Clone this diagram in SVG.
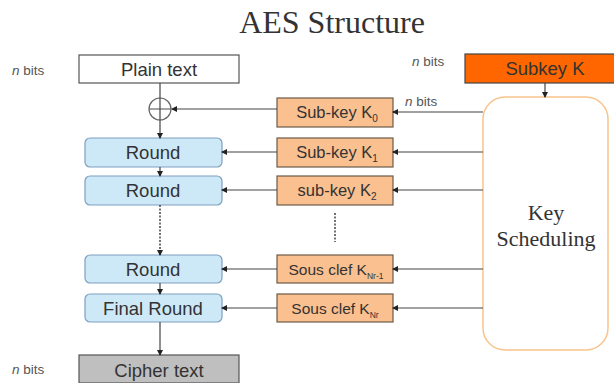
<svg xmlns="http://www.w3.org/2000/svg" width="614" height="383" viewBox="0 0 614 383">
<defs>
<marker id="ah" markerWidth="6" markerHeight="6" refX="5" refY="3" orient="auto" markerUnits="userSpaceOnUse">
<path d="M0,0 L6,3 L0,6 z" fill="#222"/>
</marker>
<style>
.sans{font-family:"Liberation Sans",Arial,sans-serif;fill:#333;}
.serif{font-family:"Liberation Serif","Times New Roman",serif;fill:#333;}
.lbl{font-size:18.5px;text-anchor:middle;}
.nb{font-size:13.5px;fill:#555;}
.round{fill:#CDE9F8;stroke:#7F9FBF;stroke-width:1.2;}
.sk{fill:#FAC08F;stroke:#6B5A4A;stroke-width:1.2;}
.ln{stroke:#444;stroke-width:1.2;fill:none;}
.arr{stroke:#444;stroke-width:1.2;fill:none;marker-end:url(#ah);}
</style>
</defs>
<rect width="614" height="383" fill="#fff"/>
<text class="serif" x="332" y="33" font-size="32" text-anchor="middle" fill="#222">AES Structure</text>

<g id="nbits">
<text class="sans nb" x="12" y="75"><tspan font-style="italic">n</tspan> bits</text>
<text class="sans nb" x="412" y="66"><tspan font-style="italic">n</tspan> bits</text>
<text class="sans nb" x="405" y="106"><tspan font-style="italic">n</tspan> bits</text>
<text class="sans nb" x="12" y="374"><tspan font-style="italic">n</tspan> bits</text>
</g>

<g id="plain"><rect x="79" y="55" width="160" height="28" fill="#fff" stroke="#555" stroke-width="1.2"/><text class="sans lbl" x="159" y="76">Plain text</text></g>
<g id="xor"><circle cx="160" cy="109" r="11" fill="none" stroke="#666" stroke-width="1.2"/><line x1="149" y1="109" x2="171" y2="109" stroke="#666" stroke-width="1.2"/></g>
<g id="round1"><rect class="round" x="85" y="138" width="137" height="29" rx="5"/><text class="sans lbl" x="153" y="159">Round</text></g>
<g id="round2"><rect class="round" x="85" y="176" width="137" height="29" rx="5"/><text class="sans lbl" x="153" y="197">Round</text></g>
<g id="round3"><rect class="round" x="85" y="255" width="137" height="28" rx="5"/><text class="sans lbl" x="153" y="276">Round</text></g>
<g id="final"><rect class="round" x="85" y="294" width="137" height="28" rx="5"/><text class="sans lbl" x="153" y="315">Final Round</text></g>
<g id="cipher"><rect x="79" y="355" width="160" height="28" fill="#BFBFBF" stroke="#555" stroke-width="1.2"/><text class="sans lbl" x="159" y="377">Cipher text</text></g>

<g id="k0"><rect class="sk" x="277" y="98" width="116" height="29"/><text class="sans" x="337" y="118" font-size="16.5" text-anchor="middle">Sub-key K<tspan font-size="10" dy="4">0</tspan></text></g>
<g id="k1"><rect class="sk" x="277" y="138" width="116" height="29"/><text class="sans" x="337" y="158" font-size="16.5" text-anchor="middle">Sub-key K<tspan font-size="10" dy="4">1</tspan></text></g>
<g id="k2"><rect class="sk" x="277" y="176" width="116" height="29"/><text class="sans" x="337" y="196" font-size="16.5" text-anchor="middle">sub-key K<tspan font-size="10" dy="4">2</tspan></text></g>
<g id="knr1"><rect class="sk" x="277" y="255" width="116" height="28"/><text class="sans" x="336" y="275" font-size="15.5" text-anchor="middle">Sous clef K<tspan font-size="8.5" dy="4">Nr-1</tspan></text></g>
<g id="knr"><rect class="sk" x="277" y="294" width="116" height="28"/><text class="sans" x="335" y="314" font-size="15.5" text-anchor="middle">Sous clef K<tspan font-size="8.5" dy="4">Nr</tspan></text></g>

<g id="subkeyK"><rect x="465" y="54" width="152" height="29" fill="#FF6600" stroke="#444" stroke-width="1.2"/><text class="sans lbl" x="545" y="75">Subkey K</text></g>
<g id="keysched"><rect x="483" y="97" width="125" height="253" rx="22" fill="#fff" stroke="#F8C48C" stroke-width="1.5"/><text class="serif" x="546" y="220" font-size="22" text-anchor="middle">Key</text><text class="serif" x="546" y="246" font-size="22" text-anchor="middle">Scheduling</text></g>

<g id="connectors">
<line class="arr" x1="160" y1="83" x2="160" y2="138"/>
<line class="arr" x1="160" y1="167" x2="160" y2="176"/>
<line x1="160" y1="205" x2="160" y2="255" stroke="#444" stroke-width="1.5" stroke-dasharray="2,1.5" marker-end="url(#ah)"/>
<line class="arr" x1="160" y1="283" x2="160" y2="294"/>
<line class="arr" x1="160" y1="322" x2="160" y2="355"/>
<line class="arr" x1="277" y1="109" x2="172" y2="109"/>
<line class="arr" x1="277" y1="152" x2="222" y2="152"/>
<line class="arr" x1="277" y1="190" x2="222" y2="190"/>
<line class="arr" x1="277" y1="269" x2="222" y2="269"/>
<line class="arr" x1="277" y1="308" x2="222" y2="308"/>
<line class="arr" x1="483" y1="112" x2="393" y2="112"/>
<line class="arr" x1="483" y1="152" x2="393" y2="152"/>
<line class="arr" x1="483" y1="190" x2="393" y2="190"/>
<line class="arr" x1="483" y1="269" x2="393" y2="269"/>
<line class="arr" x1="483" y1="308" x2="393" y2="308"/>
<line class="arr" x1="545" y1="83" x2="545" y2="97"/>
<line x1="335" y1="213" x2="335" y2="242" stroke="#444" stroke-width="1.5" stroke-dasharray="2,1.5"/>
</g>
</svg>
